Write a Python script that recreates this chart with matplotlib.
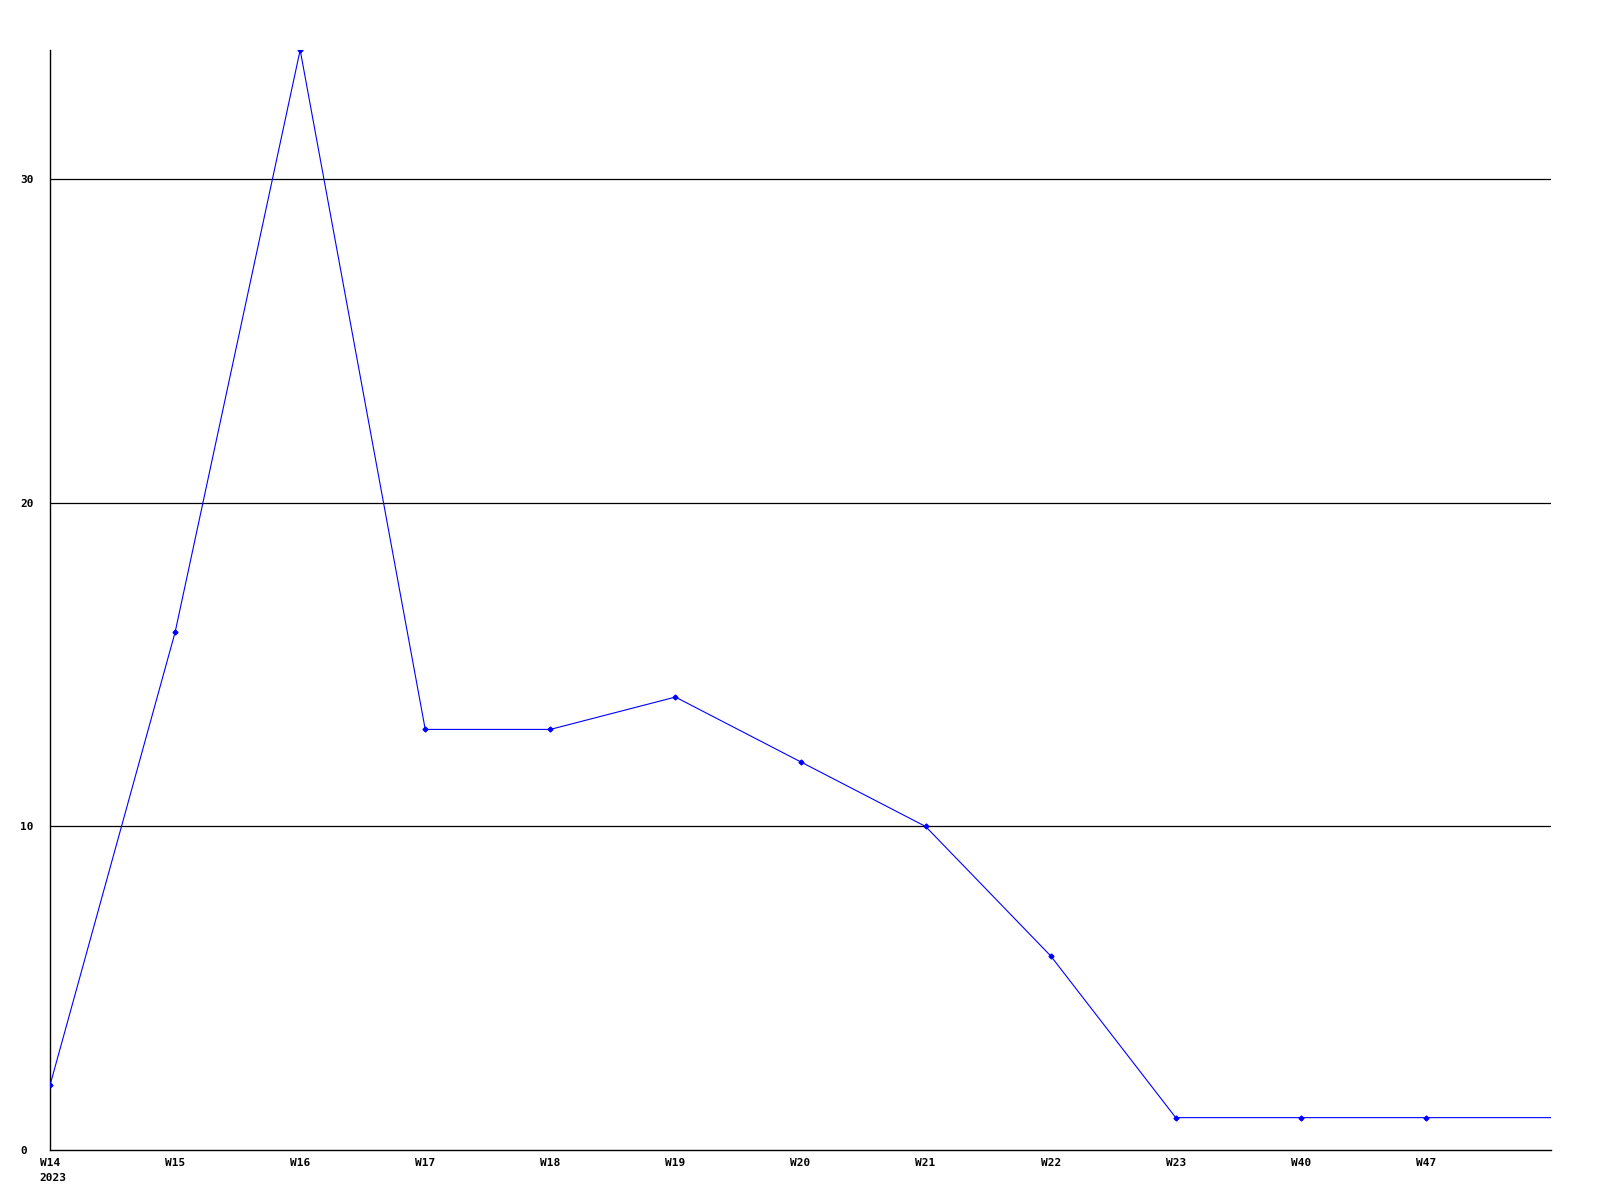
import matplotlib
matplotlib.use("Agg")
import matplotlib.pyplot as plt

weeks = ["W14", "W15", "W16", "W17", "W18", "W19", "W20", "W21", "W22", "W23", "W40", "W47", ""]
values = [2, 16, 34, 13, 13, 14, 12, 10, 6, 1, 1, 1, 1]
yticks = [0, 10, 20, 30]
year_label = "2023"

fig = plt.figure(figsize=(16, 12), dpi=100)
ax = fig.add_axes([50/1600, 50/1200, 1501/1600, 1100/1200])

x = list(range(len(values)))
ax.plot(x, values, color="#0000ff", lw=0.8, zorder=3)
ax.plot(x[:-1], values[:-1], linestyle="none", marker="D", markersize=2.5,
        color="#0000ff", zorder=4)

ax.set_xlim(0, len(values) - 1)
ax.set_ylim(0, 34)

for yv in yticks[1:]:
    ax.axhline(yv, color="black", lw=0.9, zorder=1)

for s in ["top", "right"]:
    ax.spines[s].set_visible(False)
for s in ["left", "bottom"]:
    ax.spines[s].set_color("black")
    ax.spines[s].set_linewidth(1.0)

font = dict(family="DejaVu Sans Mono", weight="bold", size=8)
ax.set_yticks(yticks)
ax.set_yticklabels([str(v) for v in yticks], fontdict=font, ha="left")
ax.tick_params(axis="y", length=0, pad=21.6)
ax.set_xticks(x[:-1])
ax.set_xticklabels(weeks[:-1], fontdict=font)
ax.tick_params(axis="x", length=0, pad=6)

ax.annotate(year_label, xy=(x[0], 0), xycoords="data",
            xytext=(-7.3, -16.5), textcoords="offset points",
            ha="left", va="top", fontfamily="DejaVu Sans Mono",
            fontweight="bold", fontsize=8, annotation_clip=False)

fig.savefig("out.png", dpi=100, facecolor="white")
